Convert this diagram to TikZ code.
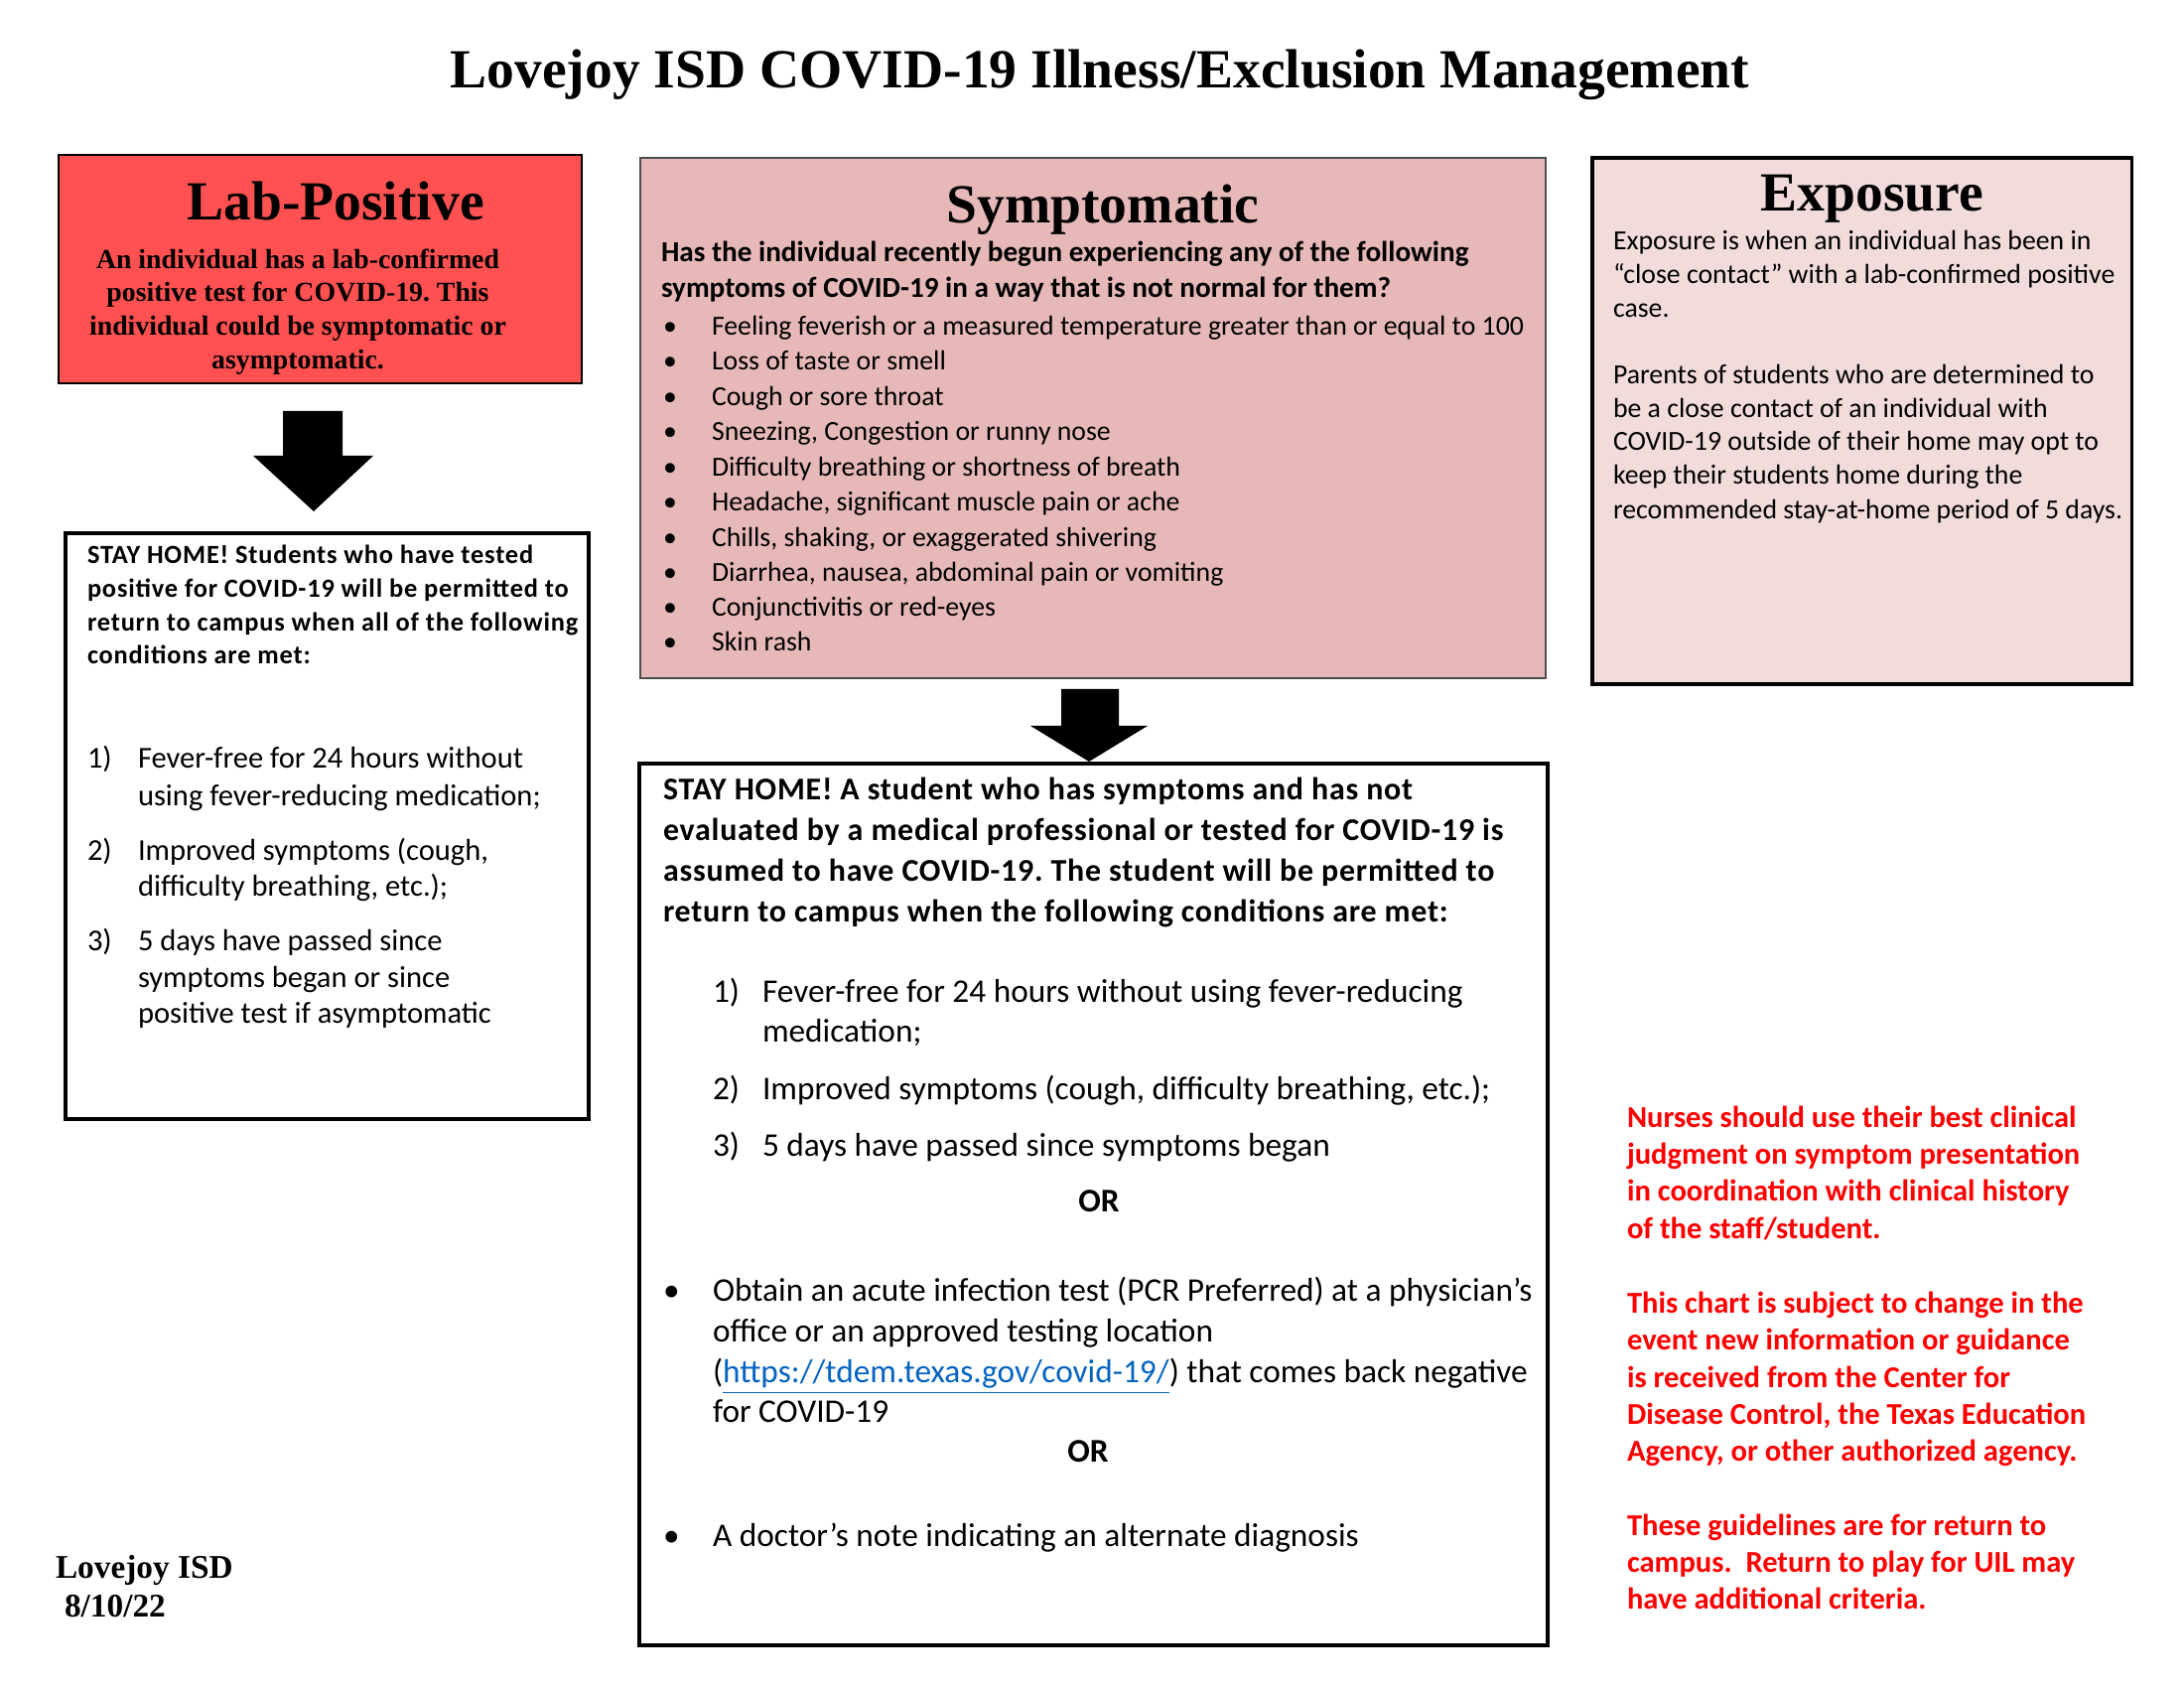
\documentclass[tikz,border=0pt]{standalone}
\usepackage{fontspec}
\setmainfont{Liberation Serif}
\newfontfamily\calfont{Carlito}
\newfontfamily\callsp{Carlito}[LetterSpace=3.1]
\newfontfamily\calmsp{Carlito}[LetterSpace=2.4]
\usetikzlibrary{fit}
\definecolor{labred}{HTML}{FF5151}
\definecolor{sympink}{HTML}{E6B9B8}
\definecolor{expink}{HTML}{F2DCDB}
\definecolor{redtxt}{HTML}{FF0000}
\definecolor{linkblue}{HTML}{0563C1}
\newcommand{\fs}[2]{\fontsize{#1}{#2}\selectfont}
\frenchspacing
\begin{document}
\begin{tikzpicture}[x=0.36pt,y=-0.36pt,
  t/.style={anchor=base west, inner sep=0pt, outer sep=0pt, yshift=-0.7pt},
  tc/.style={anchor=base, inner sep=0pt, outer sep=0pt, yshift=-0.7pt},
  box/.style={inner sep=0pt, outer sep=0pt},
  head/.style={tc, yshift=0.5pt, font=\bfseries\fs{20}{24}},
  labtxt/.style={tc, font=\bfseries\fs{10}{12}},
  lhead/.style={t, font=\callsp\bfseries\fs{9.5}{12}},
  litem/.style={t, font=\calfont\fs{11}{13}},
  quest/.style={t, font=\calfont\bfseries\fs{10.5}{13}},
  symitem/.style={t, font=\calfont\fs{10}{12}},
  expotxt/.style={t, font=\calfont\fs{10}{12}},
  mhead/.style={t, font=\calmsp\bfseries\fs{11.5}{14}},
  mitem/.style={t, font=\calfont\fs{12}{14}},
  redt/.style={t, font=\calfont\bfseries\fs{11}{13}, text=redtxt},
  foot/.style={t, font=\bfseries\fs{12}{14}}
]
\useasboundingbox (0,0) rectangle (2200,1700);
\fill[white] (0,0) rectangle (2200,1700);

% title
\node[head] (title) at (1108,88) {Lovejoy ISD COVID-19 Illness/Exclusion Management};

% boxes
\node[box, fit={(59,156)(586,386)}, draw=black, line width=0.5pt, fill=labred] (lab) {};
\node[box, fit={(66,537)(593,1127)}, draw=black, line width=1.6pt] (stay1) {};
\node[box, fit={(645,159)(1557,683)}, draw=black!70, line width=0.6pt, fill=sympink] (symp) {};
\node[box, fit={(1604,159)(2147,689)}, draw=black, line width=1.1pt, fill=expink] (expo) {};
\node[box, fit={(644,769)(1559,1657)}, draw=black, line width=1.6pt] (stay2) {};

% arrows
\coordinate (tip1) at (316,515);
\coordinate (tip2) at (1097,767);
\fill[black] (285,414) -- (345,414) -- (345,459) -- (376,459) -- (tip1) -- (255,459) -- (285,459) -- cycle;
\fill[black] (1069,694) -- (1127,694) -- (1127,731) -- (1156,731) -- (tip2) -- (1038,731) -- (1069,731) -- cycle;

% Lab-Positive
\node[head] (labh) at (338,221) {Lab-Positive};
\node[labtxt] (lab1) at (300,269) {An individual has a lab-confirmed};
\node[labtxt] (lab2) at (300,302) {positive test for COVID-19. This};
\node[labtxt] (lab3) at (300,336) {individual could be symptomatic or};
\node[labtxt] (lab4) at (300,370) {asymptomatic.};

% left stay home
\node[lhead] (lh1) at (88,566) {STAY HOME! Students who have tested};
\node[lhead] (lh2) at (88,600) {positive for COVID-19 will be permitted to};
\node[lhead] (lh3) at (88,634) {return to campus when all of the following};
\node[lhead] (lh4) at (88,667) {conditions are met:};
\node[litem] (ln1) at (88,772) {1)};
\node[litem] (li1a) at (139,772) {Fever-free for 24 hours without};
\node[litem] (li1b) at (139,810) {using fever-reducing medication;};
\node[litem] (ln2) at (88,865) {2)};
\node[litem] (li2a) at (139,865) {Improved symptoms (cough,};
\node[litem] (li2b) at (139,901) {difficulty breathing, etc.);};
\node[litem] (ln3) at (88,956) {3)};
\node[litem] (li3a) at (139,956) {5 days have passed since};
\node[litem] (li3b) at (139,993) {symptoms began or since};
\node[litem] (li3c) at (139,1029) {positive test if asymptomatic};

% Symptomatic
\node[head] (symh) at (1111,224) {Symptomatic};
\node[quest] (q1) at (666,262) {Has the individual recently begun experiencing any of the following};
\node[quest] (q2) at (666,298) {symptoms of COVID-19 in a way that is not normal for them?};
\foreach \yy [count=\i] in {336,371,407,442,478,513,549,584,619,654}
  \node[symitem] (sb\i) at (668,\yy) {•};
\node[symitem] (s1) at (717,336) {Feeling feverish or a measured temperature greater than or equal to 100};
\node[symitem] (s2) at (717,371) {Loss of taste or smell};
\node[symitem] (s3) at (717,407) {Cough or sore throat};
\node[symitem] (s4) at (717,442) {Sneezing, Congestion or runny nose};
\node[symitem] (s5) at (717,478) {Difficulty breathing or shortness of breath};
\node[symitem] (s6) at (717,513) {Headache, significant muscle pain or ache};
\node[symitem] (s7) at (717,549) {Chills, shaking, or exaggerated shivering};
\node[symitem] (s8) at (717,584) {Diarrhea, nausea, abdominal pain or vomiting};
\node[symitem] (s9) at (717,619) {Conjunctivitis or red-eyes};
\node[symitem] (s10) at (717,654) {Skin rash};

% Exposure
\node[head] (exph) at (1886,212) {Exposure};
\node[expotxt] (e1) at (1625,250) {Exposure is when an individual has been in};
\node[expotxt] (e2) at (1625,284) {“close contact” with a lab-confirmed positive};
\node[expotxt] (e3) at (1625,318) {case.};
\node[expotxt] (e4) at (1625,385) {Parents of students who are determined to};
\node[expotxt] (e5) at (1625,419) {be a close contact of an individual with};
\node[expotxt] (e6) at (1625,452) {COVID-19 outside of their home may opt to};
\node[expotxt] (e7) at (1625,486) {keep their students home during the};
\node[expotxt] (e8) at (1625,521) {recommended stay-at-home period of 5 days.};

% middle stay home
\node[mhead] (mh1) at (668,804) {STAY HOME! A student who has symptoms and has not};
\node[mhead] (mh2) at (668,845) {evaluated by a medical professional or tested for COVID-19 is};
\node[mhead] (mh3) at (668,886) {assumed to have COVID-19. The student will be permitted to};
\node[mhead] (mh4) at (668,927) {return to campus when the following conditions are met:};
\node[mitem] (mn1) at (718,1008) {1)};
\node[mitem] (mi1a) at (768,1008) {Fever-free for 24 hours without using fever-reducing};
\node[mitem] (mi1b) at (768,1048) {medication;};
\node[mitem] (mn2) at (718,1106) {2)};
\node[mitem] (mi2) at (768,1106) {Improved symptoms (cough, difficulty breathing, etc.);};
\node[mitem] (mn3) at (718,1163) {3)};
\node[mitem] (mi3) at (768,1163) {5 days have passed since symptoms began};
\node[tc, font=\calfont\bfseries\fs{12}{14}] (or1) at (1107,1219) {OR};
\node[mitem] (mb1) at (668,1309) {•};
\node[mitem] (mb1a) at (718,1309) {Obtain an acute infection test (PCR Preferred) at a physician’s};
\node[mitem] (mb1b) at (718,1350) {office or an approved testing location};
\node[mitem] (mb1c) at (718,1391) {(\textcolor{linkblue}{\underline{https://tdem.texas.gov/covid-19/}}) that comes back negative};
\node[mitem] (mb1d) at (718,1431) {for COVID-19};
\node[tc, font=\calfont\bfseries\fs{12}{14}] (or2) at (1096,1471) {OR};
\node[mitem] (mb2) at (668,1556) {•};
\node[mitem] (mb2a) at (718,1556) {A doctor’s note indicating an alternate diagnosis};

% red notes
\node[redt] (r1) at (1639,1134) {Nurses should use their best clinical};
\node[redt] (r2) at (1639,1171) {judgment on symptom presentation};
\node[redt] (r3) at (1639,1208) {in coordination with clinical history};
\node[redt] (r4) at (1639,1246) {of the staff/student.};
\node[redt] (r5) at (1639,1321) {This chart is subject to change in the};
\node[redt] (r6) at (1639,1358) {event new information or guidance};
\node[redt] (r7) at (1639,1396) {is received from the Center for};
\node[redt] (r8) at (1639,1433) {Disease Control, the Texas Education};
\node[redt] (r9) at (1639,1470) {Agency, or other authorized agency.};
\node[redt] (r10) at (1639,1545) {These guidelines are for return to};
\node[redt] (r11) at (1639,1582) {campus.\ \ Return to play for UIL may};
\node[redt] (r12) at (1639,1619) {have additional criteria.};

% footer
\node[foot] (f1) at (56,1588) {Lovejoy ISD};
\node[foot] (f2) at (65,1627) {8/10/22};
\end{tikzpicture}
\end{document}
